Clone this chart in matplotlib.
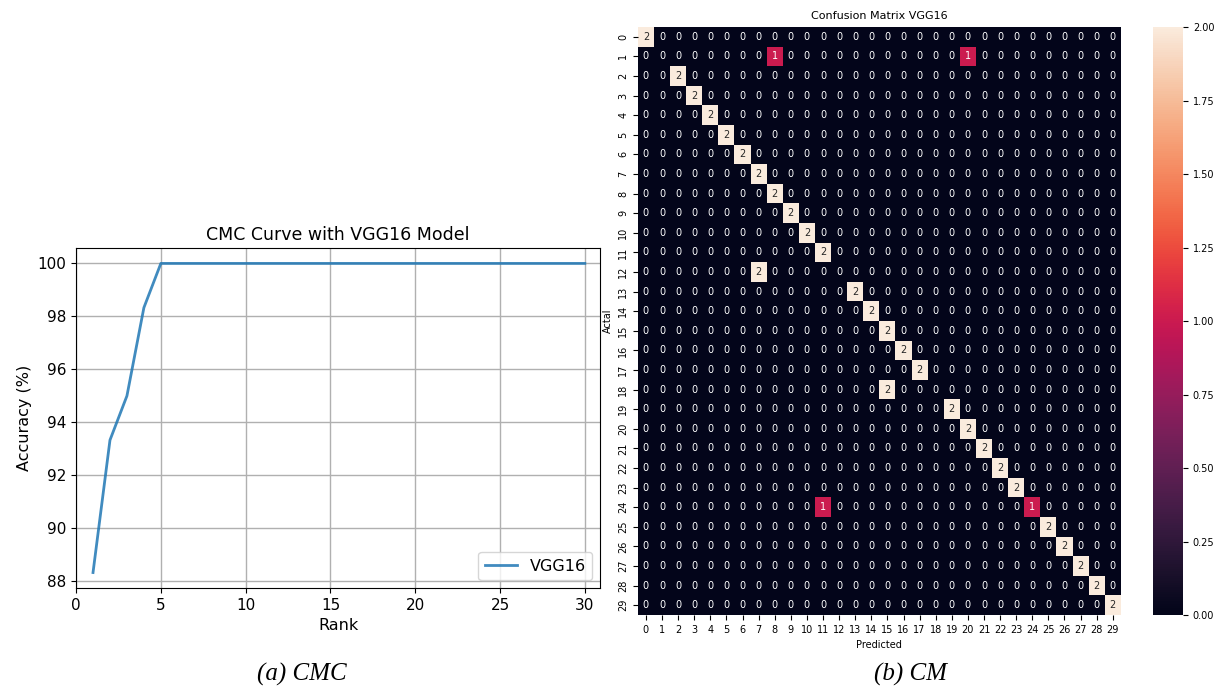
import numpy as np
import matplotlib
matplotlib.use("Agg")
import matplotlib.pyplot as plt
import seaborn as sns

# CMC curve data
ranks = list(range(1, 31))
accuracy = [88.33, 93.33, 95.0, 98.33] + [100.0] * 26

# confusion matrix: two test samples per class
classes = list(range(30))
y_true = [c for c in classes for _ in range(2)]
y_pred = [0, 0, 8, 20, 2, 2, 3, 3, 4, 4, 5, 5, 6, 6, 7, 7, 8, 8, 9, 9,
          10, 10, 11, 11, 7, 7, 13, 13, 14, 14, 15, 15, 16, 16, 17, 17,
          15, 15, 19, 19, 20, 20, 21, 21, 22, 22, 23, 23, 11, 24,
          25, 25, 26, 26, 27, 27, 28, 28, 29, 29]

cm = np.zeros((len(classes), len(classes)), dtype=int)
for t, p in zip(y_true, y_pred):
    cm[t, p] += 1

fig = plt.figure(figsize=(12.15, 6.89), dpi=100)

# (a) CMC
ax1 = fig.add_axes([0.0626, 0.1466, 0.4313, 0.4935])
ax1.plot(ranks, accuracy, color="#1f77b4", lw=2, label="VGG16", alpha=0.85)
ax1.set_xlim(0, 30.9)
ax1.grid(True, color="#b0b0b0", lw=1)
ax1.set_title("CMC Curve with VGG16 Model", fontsize=12.5)
ax1.set_xlabel("Rank", fontsize=11.5)
ax1.set_ylabel("Accuracy (%)", fontsize=11.5)
ax1.tick_params(labelsize=11)
ax1.legend(loc="lower right", fontsize=11.5)

# (b) confusion matrix
ax2 = fig.add_axes([0.525, 0.1074, 0.3975, 0.8534])
cax = fig.add_axes([0.949, 0.1074, 0.0247, 0.8534])
sns.heatmap(cm, annot=True, fmt="d", ax=ax2, cbar_ax=cax,
            annot_kws={"fontsize": 7}, vmin=0, vmax=2)
ax2.set_title("Confusion Matrix VGG16", fontsize=8)
ax2.set_xlabel("Predicted", fontsize=7)
ax2.set_ylabel("Actal", fontsize=7)
ax2.set_xticklabels(classes, fontsize=7, rotation=0)
ax2.set_yticklabels(classes, fontsize=7, rotation=90, va="center")
cax.tick_params(labelsize=7)
cax.set_yticks([0, 0.25, 0.5, 0.75, 1.0, 1.25, 1.5, 1.75, 2.0])
cax.set_yticklabels(["0.00", "0.25", "0.50", "0.75", "1.00", "1.25", "1.50", "1.75", "2.00"])

# captions
fig.text(302 / 1215, 1 - 674 / 689, "(a) CMC", ha="center", va="center",
         fontsize=18, style="italic", family="Liberation Serif")
fig.text(910 / 1215, 1 - 674 / 689, "(b) CM", ha="center", va="center",
         fontsize=18, style="italic", family="Liberation Serif")

fig.savefig("out.png", dpi=100)
